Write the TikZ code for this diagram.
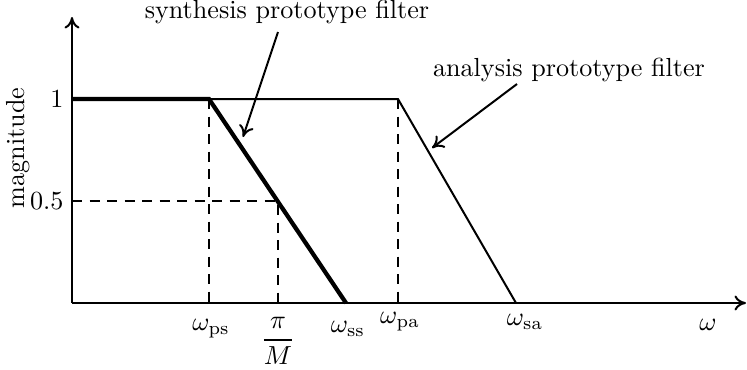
\documentclass[tikz,border=0pt]{standalone}
\usetikzlibrary{arrows.meta}
\begin{document}
\begin{tikzpicture}[x=0.4pt,y=-0.4pt,
  tip/.style={-{To[length=4.6pt,width=6pt]}},
  thin line/.style={line width=0.8pt},
  thick line/.style={line width=1.7pt},
  guide/.style={line width=0.7pt,dashed,dash pattern=on 4pt off 3pt},
  pointer/.style={line width=0.8pt,tip},
  lbl/.style={inner sep=0pt,scale=1.045}]
\useasboundingbox (0,0) rectangle (747,369);
% coordinates
\coordinate (O) at (72,303);
\coordinate (ytop) at (72,17);
\coordinate (xend) at (746,303);
\coordinate (one) at (72,99);
\coordinate (half) at (72,201);
\coordinate (ps) at (209,99);
\coordinate (psb) at (209,303);
\coordinate (pm) at (278,201);
\coordinate (pmb) at (278,303);
\coordinate (ss) at (346,303);
\coordinate (pa) at (398,99);
\coordinate (pab) at (398,303);
\coordinate (sa) at (516,303);
% dashed guides
\draw[guide] (ps) -- (psb);
\draw[guide] (pa) -- (pab);
\draw[guide] (half) -- (pm) -- (pmb);
% axes
\draw[thin line,tip] (O) -- (ytop);
\draw[thin line,tip] (O) -- (xend);
% analysis filter
\draw[thin line] (ps) -- (pa) -- (sa);
% synthesis filter
\draw[thick line,line join=miter] (one) -- (ps) -- (ss);
% labels
\node[lbl,anchor=east] (l1) at (64,99) {1};
\node[lbl,anchor=east] (l05) at (64,201) {0.5};
\node[lbl,rotate=90] (mag) at (18,148) {magnitude};
\node[lbl] (wps) at (211,329) {$\omega_{\mathrm{ps}}$};
\node[lbl] (wpm) at (278,341) {$\displaystyle\frac{\pi}{M}$};
\node[lbl] (wss) at (348,329) {$\omega_{\mathrm{ss}}$};
\node[lbl] (wpa) at (400,322) {$\omega_{\mathrm{pa}}$};
\node[lbl] (wsa) at (525,322) {$\omega_{\mathrm{sa}}$};
\node[lbl] (w) at (708,325) {$\omega$};
% annotations
\node[lbl] (syn) at (287,12) {synthesis prototype filter};
\node[lbl] (ana) at (569,70) {analysis prototype filter};
\coordinate (synS) at (278,32);
\coordinate (synT) at (243,137);
\coordinate (anaS) at (517,84);
\coordinate (anaT) at (432,148);
\draw[pointer] (synS) -- (synT);
\draw[pointer] (anaS) -- (anaT);
\end{tikzpicture}
\end{document}
